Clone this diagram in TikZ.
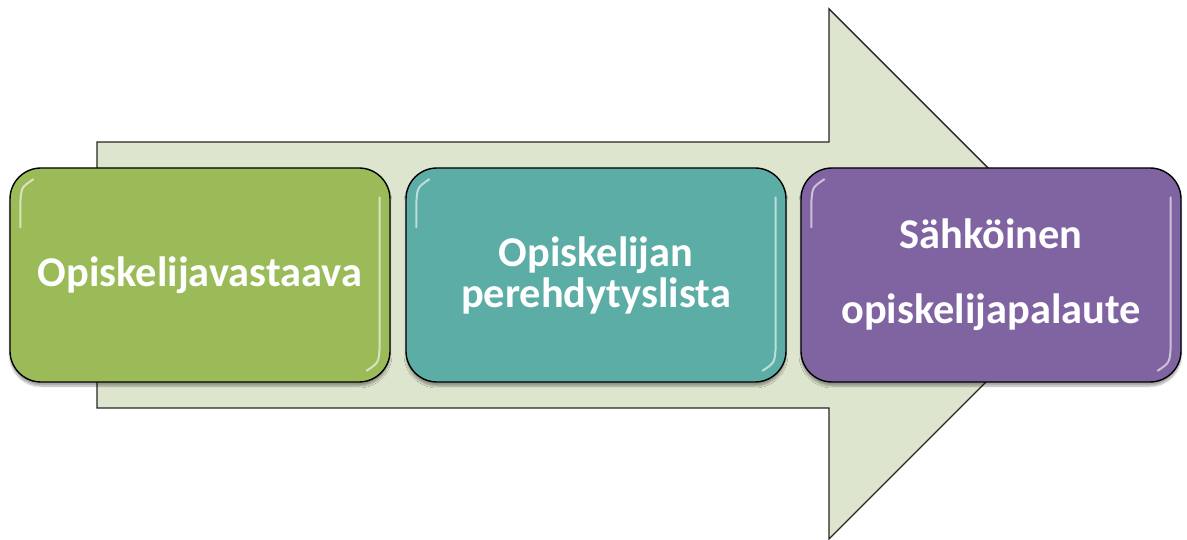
\documentclass[tikz,border=0pt]{standalone}
\usepackage{fontspec}
\setmainfont{Carlito}
\usetikzlibrary{shadows.blur}
\definecolor{arrowfill}{HTML}{DDE5CF}
\definecolor{boxgreen}{HTML}{9BBB59}
\definecolor{boxteal}{HTML}{5BADA5}
\definecolor{boxpurple}{HTML}{8064A2}

\begin{document}
\begin{tikzpicture}[x=1pt,y=-1pt,
  box/.style={draw=black,line width=1.4pt,rounded corners=31pt,minimum width=380pt,minimum height=214pt,inner sep=0pt,
    align=center,text=white,font=\fontsize{42.4}{41}\selectfont\bfseries,
    blur shadow={shadow xshift=0pt,shadow yshift=-4pt,shadow blur steps=6,shadow opacity=35}},
  hilite/.style={white,line width=2pt,opacity=.6,line cap=round}]
  \useasboundingbox(0,0)rectangle(1187,540);
  % big arrow behind the boxes
  \draw[fill=arrowfill,line width=1.4pt,draw=black!85](97,142)--(829,142)--(829,9)--(1094,274)--(829,539)--(829,408)--(97,408)--cycle;
  \foreach\nm/\cx/\col/\txt in {opv/200/boxgreen/{Opiskelijavastaava},
      ppl/596/boxteal/{Opiskelijan\\perehdytyslista},
      sop/991/boxpurple/{S\"ahk\"oinen\\[34pt]opiskelijapalaute}} {
     \node[box,fill=\col](\nm)at(\cx,275){\txt};
   }
  % glossy streaks
  \foreach\nm in {opv,ppl,sop} {
     \draw[hilite]([shift={(11pt,-60pt)}]\nm.north west)--([shift={(11pt,-36pt)}]\nm.north west)
        ..controls([shift={(12pt,-20pt)}]\nm.north west)..([shift={(24pt,-12pt)}]\nm.north west);
     \draw[hilite]([shift={(-11pt,-30pt)}]\nm.north east)--([shift={(-11pt,36pt)}]\nm.south east)
        ..controls([shift={(-12pt,20pt)}]\nm.south east)..([shift={(-24pt,12pt)}]\nm.south east);
   }
\end{tikzpicture}
\end{document}
